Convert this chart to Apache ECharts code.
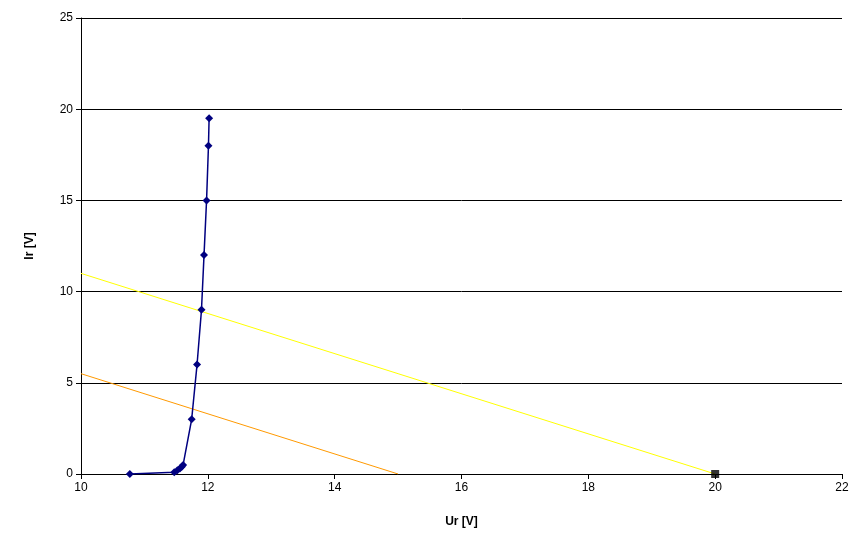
<!DOCTYPE html>
<html><head><meta charset="utf-8">
<script src="https://cdn.jsdelivr.net/npm/echarts@6/dist/echarts.min.js"></script>
<style>html,body{margin:0;padding:0;background:#fff}#c{width:866px;height:548px}</style>
</head><body><div id="c"></div>
<script>
// Blue measured curve
const curveU = [10.77, 11.47, 11.52, 11.56, 11.59, 11.61, 11.745, 11.83, 11.90, 11.94, 11.98, 12.01, 12.02];
const curveI = [0, 0.1, 0.2, 0.3, 0.4, 0.5, 3, 6, 9, 12, 15, 18, 19.5];
// Load lines
const yellowU = [10, 20];
const yellowI = [11, 0];
const orangeU = [10, 15];
const orangeI = [5.5, 0];
// Operating point marker
const markU = [20];
const markI = [0];

const zip = (a, b) => a.map((v, i) => [v, b[i]]);
const font = 'Liberation Sans, Arial, sans-serif';

const chart = echarts.init(document.getElementById('c'));
chart.setOption({
  animation: false,
  backgroundColor: '#fff',
  grid: { left: 81, right: 24, top: 18, bottom: 74, containLabel: false },
  xAxis: {
    type: 'value', min: 10, max: 22, interval: 2,
    name: 'Ur [V]', nameLocation: 'middle', nameGap: 42,
    nameTextStyle: { fontFamily: font, fontSize: 12, fontWeight: 'bold', color: '#000' },
    axisLine: { lineStyle: { color: '#000', width: 1 } },
    axisTick: { show: true, length: 5, lineStyle: { color: '#000' } },
    axisLabel: { fontFamily: font, fontSize: 12, color: '#000', margin: 8 },
    splitLine: { show: false }
  },
  yAxis: {
    type: 'value', min: 0, max: 25, interval: 5,
    name: 'Ir [V]', nameLocation: 'middle', nameGap: 45, nameRotate: 90,
    nameTextStyle: { fontFamily: font, fontSize: 12, fontWeight: 'bold', color: '#000' },
    axisLine: { show: true, lineStyle: { color: '#000', width: 1 } },
    axisTick: { show: true, length: 5, lineStyle: { color: '#000' } },
    axisLabel: { fontFamily: font, fontSize: 12, color: '#000', margin: 8 },
    splitLine: { show: true, lineStyle: { color: '#000', width: 1 } }
  },
  series: [
    { type: 'line', data: zip(yellowU, yellowI), showSymbol: false, symbol: 'none',
      lineStyle: { color: '#FFFF00', width: 1 }, z: 2 },
    { type: 'line', data: zip(orangeU, orangeI), showSymbol: false, symbol: 'none',
      lineStyle: { color: '#FF9900', width: 1 }, z: 2 },
    { type: 'line', data: zip(curveU, curveI), symbol: 'diamond', symbolSize: 8,
      itemStyle: { color: '#000080' }, lineStyle: { color: '#000080', width: 1.5 }, z: 3 },
    { type: 'scatter', data: zip(markU, markI), symbol: 'rect', symbolSize: 8,
      itemStyle: { color: '#000' }, z: 4 }
  ]
});
</script></body></html>
